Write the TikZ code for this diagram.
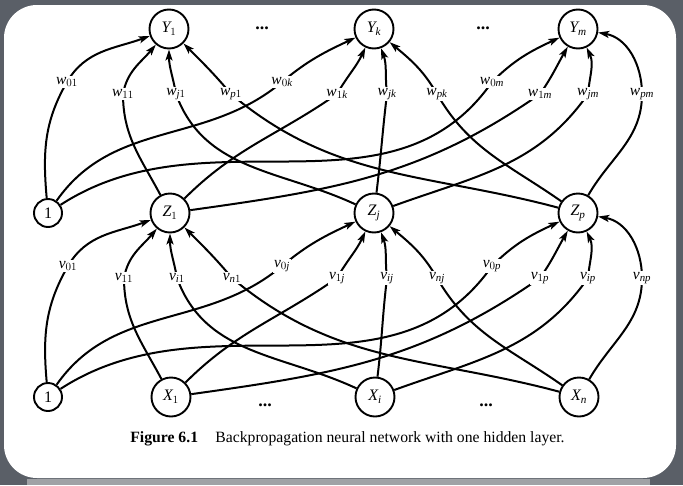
\documentclass[tikz,border=0pt]{standalone}
\usepackage{fontspec}
\setmainfont{Liberation Serif}
\DeclareSymbolFont{letters}{TU}{\rmdefault}{m}{it}
\usetikzlibrary{arrows.meta,calc}
\definecolor{bgdark}{RGB}{90,95,103}
\definecolor{bgstrip}{RGB}{160,162,166}

\newcommand\netlayer[7]{%
\foreach \s/\t/\dx/\dy/\oa/\ia/\ob/\ib in {%
 0/1/-102/53/95/240/60/200,
 0/#6/-92/53/55/220/40/205,
 0/#7/-86/53/33/235/45/205,
 1/1/-46/65/118/270/80/230,
 1/#6/-37/65/45/215/60/245,
 1/#7/-38/65/8/215/55/240,
 #4/1/7/65/155/290/100/270,
 #4/#6/13/65/83/263/97/290,
 #4/#7/10/65/20/235/85/295,
 #5/1/62/65/165/320/130/315,
 #5/#6/63/65/145/300/120/320,
 #5/#7/64/65/60/270/90/350}{%
  \coordinate (#3\s\t) at ($(#2\t)+(\dx,-\dy)$);
  \draw[edge] (#1\s) to[out=\oa,in=\ia] (#3\s\t) to[out=\ob,in=\ib] (#2\t);
  \node[wlab] (l#3\s\t) at (#3\s\t) {$#3_{\s\t}$};
}}

\begin{document}
\begin{tikzpicture}[x=1pt,y=1pt,
  neuron/.style={circle,draw,line width=1.9pt,minimum size=39pt,inner sep=0pt,font=\fontsize{16}{16}\selectfont},
  biasn/.style={circle,draw,line width=1.9pt,minimum size=28pt,inner sep=0pt,font=\fontsize{16}{16}\selectfont},
  edge/.style={line width=2pt,-{Stealth[length=11pt,width=7pt,inset=2.5pt]}},
  wlab/.style={fill=white,inner sep=1pt,font=\fontsize{15.5}{15.5}\selectfont},
  dotsn/.style={inner sep=0pt,font=\fontsize{18}{18}\selectfont\bfseries}]
\useasboundingbox (0,0) rectangle (683,-485);
\fill[bgdark] (0,0) rectangle (683,-485);
\fill[bgstrip] (27,-479) rectangle (650,-485);
\fill[white,rounded corners=33pt] (4,-5) rectangle (676,-478);

\node[biasn] (Z0) at (48,-213) {1};
\node[biasn] (X0) at (48,-397) {1};
\node[neuron] (Y1) at (169,-29) {$Y_1$};
\node[neuron] (Yk) at (374,-29) {$Y_k$};
\node[neuron] (Ym) at (578,-29) {$Y_m$};
\node[neuron] (Z1) at (170,-213) {$Z_1$};
\node[neuron] (Zj) at (374,-213) {$Z_j$};
\node[neuron] (Zp) at (578,-213) {$Z_p$};
\node[neuron] (X1) at (171,-397) {$X_1$};
\node[neuron] (Xi) at (375,-397) {$X_i$};
\node[neuron] (Xn) at (579,-397) {$X_n$};

\netlayer{Z}{Y}{w}{j}{p}{k}{m}
\netlayer{X}{Z}{v}{i}{n}{j}{p}

\node[dotsn] (dt1) at (262,-28) {...};
\node[dotsn] (dt2) at (483,-28) {...};
\node[dotsn] (db1) at (265,-405) {...};
\node[dotsn] (db2) at (486,-405) {...};

\node[font=\fontsize{15.7}{17}\selectfont] (cap) at (347.5,-439)
  {\textbf{Figure 6.1}\hspace{1.1em}Backpropagation neural network with one hidden layer.};
\end{tikzpicture}
\end{document}
